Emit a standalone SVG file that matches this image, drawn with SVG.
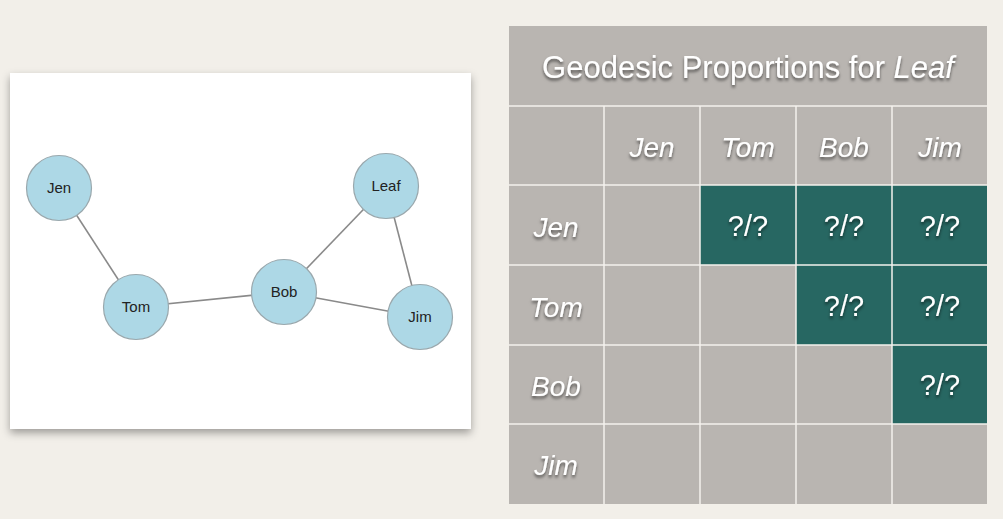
<svg xmlns="http://www.w3.org/2000/svg" width="1003" height="519" viewBox="0 0 1003 519">
<defs>
<filter id="panelShadow" x="-5%" y="-5%" width="110%" height="115%">
<feDropShadow dx="0" dy="4" stdDeviation="4" flood-color="#000" flood-opacity="0.35"/>
</filter>
<filter id="txtShadow" x="-20%" y="-30%" width="140%" height="170%">
<feDropShadow dx="0" dy="2.5" stdDeviation="1.5" flood-color="#000" flood-opacity="0.55"/>
</filter>
</defs>
<style>
.node circle{fill:#add8e6;stroke:#9aa8ad;stroke-width:1.2}
.node text{font-family:"Liberation Sans",Arial,sans-serif;font-size:15px;fill:#222;text-anchor:middle}
.edge{stroke:#8a8a8a;stroke-width:1.6;fill:none}
.cell{fill:#b9b5b1}
.teal{fill:#276762}
.grid{stroke:#f4f2ee;stroke-width:1.5}
.lbl{font-family:"Liberation Sans",Arial,sans-serif;fill:#fff;text-anchor:middle;filter:url(#txtShadow)}
.it{font-style:italic;font-size:28px}
.q{font-size:29px}
</style>
<rect width="1003" height="519" fill="#f2efe9"/>
<!-- left panel -->
<rect x="10" y="73" width="461" height="356" fill="#fff" filter="url(#panelShadow)"/>
<g id="connectors">
<line class="edge" x1="59" y1="188" x2="136" y2="307"/>
<line class="edge" x1="136" y1="307" x2="284" y2="292"/>
<line class="edge" x1="284" y1="292" x2="386" y2="186"/>
<line class="edge" x1="284" y1="292" x2="420" y2="317"/>
<line class="edge" x1="386" y1="186" x2="420" y2="317"/>
</g>
<g id="node-jen" class="node"><circle cx="59" cy="188" r="32.5"/><text x="59" y="193">Jen</text></g>
<g id="node-tom" class="node"><circle cx="136" cy="307" r="32.5"/><text x="136" y="312">Tom</text></g>
<g id="node-bob" class="node"><circle cx="284" cy="292" r="32.5"/><text x="284" y="297">Bob</text></g>
<g id="node-leaf" class="node"><circle cx="386" cy="186" r="32.5"/><text x="386" y="191">Leaf</text></g>
<g id="node-jim" class="node"><circle cx="420" cy="317" r="32.5"/><text x="420" y="322">Jim</text></g>
<!-- table -->
<g id="table">
<rect class="cell" x="509" y="26" width="478" height="478"/>
<rect class="teal" x="700" y="185" width="96" height="80"/>
<rect class="teal" x="796" y="185" width="96" height="80"/>
<rect class="teal" x="892" y="185" width="95" height="80"/>
<rect class="teal" x="796" y="265" width="96" height="80"/>
<rect class="teal" x="892" y="265" width="95" height="80"/>
<rect class="teal" x="892" y="345" width="95" height="79"/>
<g class="grid">
<line x1="509" y1="106" x2="987" y2="106"/>
<line x1="509" y1="185" x2="987" y2="185"/>
<line x1="509" y1="265" x2="987" y2="265"/>
<line x1="509" y1="345" x2="987" y2="345"/>
<line x1="509" y1="424" x2="987" y2="424"/>
<line x1="604" y1="106" x2="604" y2="504"/>
<line x1="700" y1="106" x2="700" y2="504"/>
<line x1="796" y1="106" x2="796" y2="504"/>
<line x1="892" y1="106" x2="892" y2="504"/>
</g>
<text class="lbl" x="748" y="78" font-size="31">Geodesic Proportions for <tspan font-style="italic">Leaf</tspan></text>
<text class="lbl it" x="652" y="157">Jen</text>
<text class="lbl it" x="748" y="157">Tom</text>
<text class="lbl it" x="844" y="157">Bob</text>
<text class="lbl it" x="940" y="157">Jim</text>
<text class="lbl it" x="556" y="237">Jen</text>
<text class="lbl it" x="556" y="317">Tom</text>
<text class="lbl it" x="556" y="396">Bob</text>
<text class="lbl it" x="556" y="475">Jim</text>
<text class="lbl q" x="748" y="236">?/?</text>
<text class="lbl q" x="844" y="236">?/?</text>
<text class="lbl q" x="940" y="236">?/?</text>
<text class="lbl q" x="844" y="316">?/?</text>
<text class="lbl q" x="940" y="316">?/?</text>
<text class="lbl q" x="940" y="395">?/?</text>
</g>
</svg>
